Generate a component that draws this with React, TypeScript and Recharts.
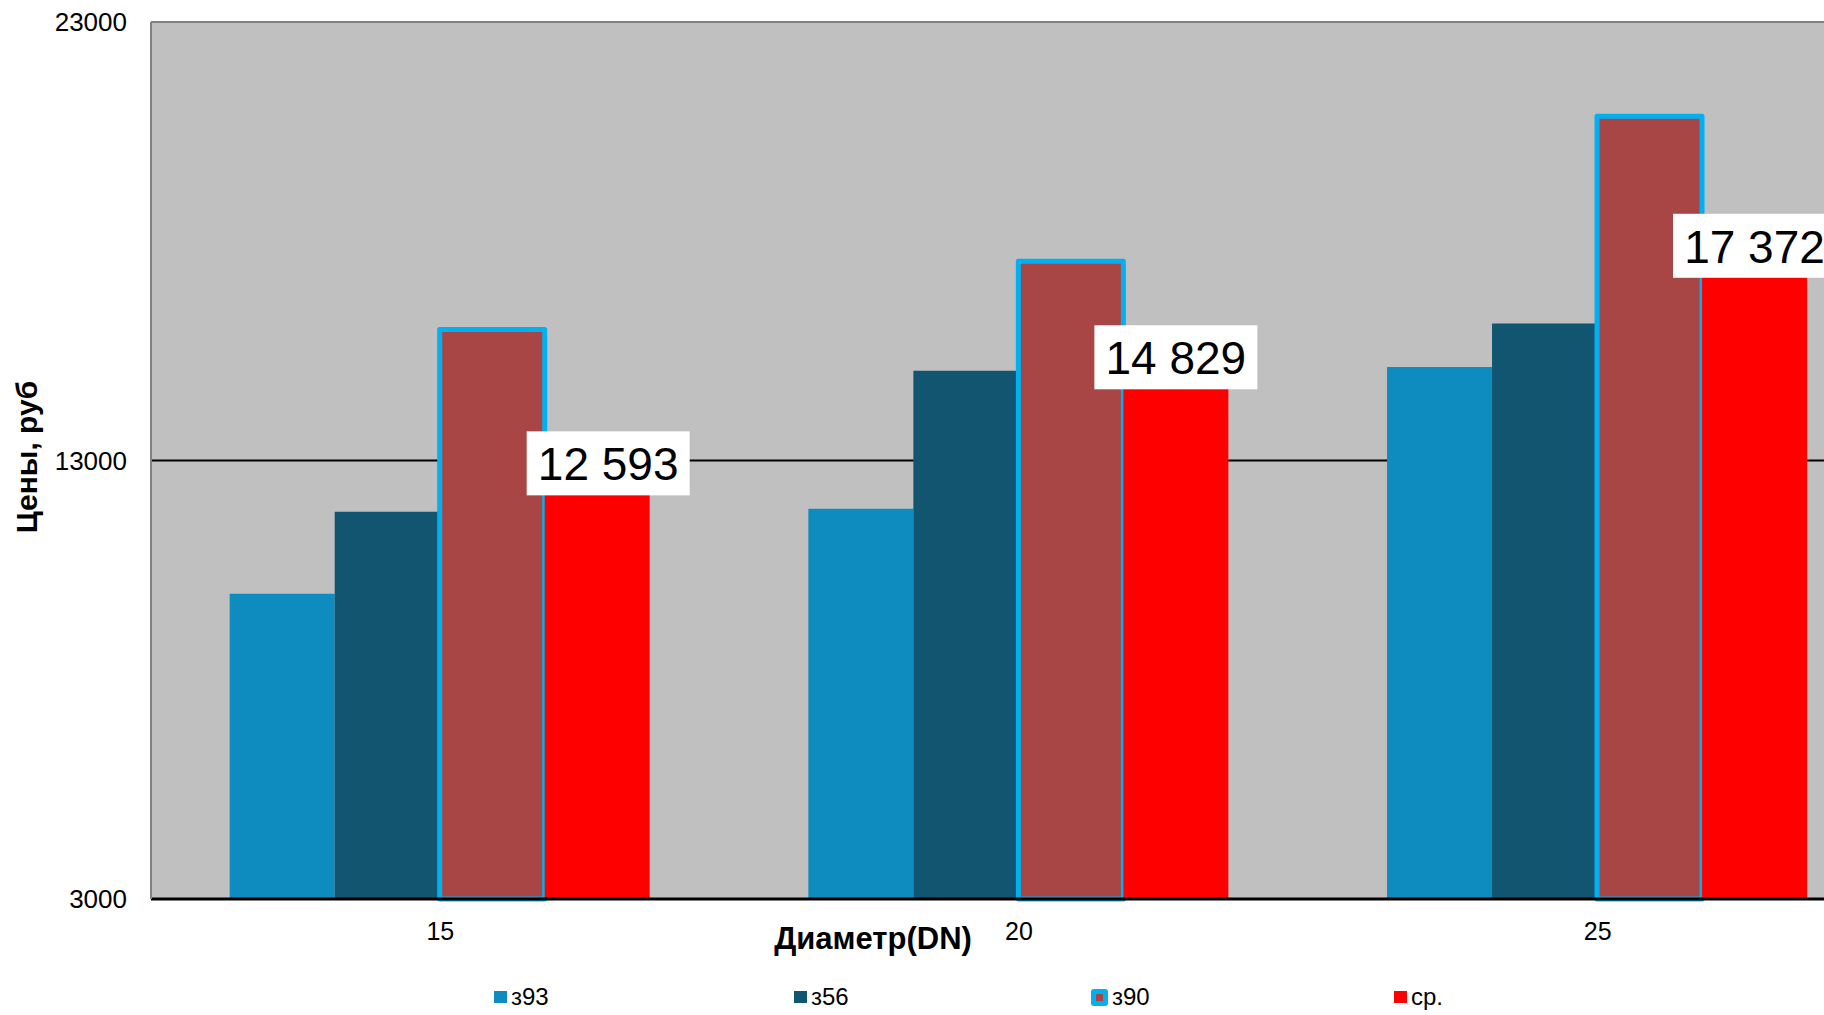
import { BarChart, Bar, XAxis, YAxis, CartesianGrid, ReferenceLine, LabelList } from "recharts";

const diameters = ["15", "20", "25"];
const z93 = [9960, 11898, 15130];
const z56 = [11830, 15047, 16126];
const z90 = [15990, 17545, 20853];
const avg = [12593, 14829, 17372];
const yTicks = [3000, 13000, 23000];

const SERIES = [
  { key: "z93", name: "з93", fill: "#0E8BBF" },
  { key: "z56", name: "з56", fill: "#125571" },
  { key: "z90", name: "з90", fill: "#A84646", stroke: "#00B0F0" },
  { key: "avg", name: "ср.", fill: "#FF0000" },
];

const data = diameters.map((d, i) => ({ dn: d, z93: z93[i], z56: z56[i], z90: z90[i], avg: avg[i] }));

const FONT = "'Liberation Sans', Arial, sans-serif";

const fmt = (v: number) => String(v).replace(/\B(?=(\d{3})+(?!\d))/g, " ");

// the first label was nudged by hand in the original
const LABEL_NUDGE = [
  { dx: 11, dy: 8 },
  { dx: 0, dy: 0 },
  { dx: 0, dy: 0 },
];

function AvgLabel(props: any) {
  const { x, y, width, value, index } = props;
  const n = LABEL_NUDGE[index] || { dx: 0, dy: 0 };
  const cx = x + width / 2 + n.dx;
  const ty = y + n.dy;
  return (
    <g>
      <rect x={cx - 81.5} y={ty - 55} width={163} height={64} fill="#fff" />
      <text x={cx} y={ty - 6} textAnchor="middle" fontSize={46} fontFamily={FONT} fill="#000">
        {fmt(value)}
      </text>
    </g>
  );
}

function LegendIcon({ s }: { s: (typeof SERIES)[number] }) {
  if (s.stroke) {
    return (
      <span
        style={{
          display: "inline-flex",
          alignItems: "center",
          justifyContent: "center",
          width: 17,
          height: 17,
          borderRadius: 3,
          background: s.stroke,
          marginLeft: -3,
        }}
      >
        <span style={{ width: 7, height: 7, background: s.fill }} />
      </span>
    );
  }
  return <span style={{ width: 13, height: 12, background: s.fill, display: "inline-block" }} />;
}

export default function App() {
  return (
    <div
      style={{
        position: "fixed",
        left: 0,
        top: 0,
        width: 1824,
        height: 1015,
        overflow: "hidden",
        background: "#fff",
        fontFamily: FONT,
      }}
    >
      <BarChart
        width={1900}
        height={1015}
        data={data}
        margin={{ top: 22, right: 13, bottom: 36, left: 0 }}
        barCategoryGap="13.6%"
        barGap={0}
      >
        <CartesianGrid vertical={false} stroke="#000" strokeWidth={2} fill="#C0C0C0" fillOpacity={1} />
        <XAxis
          dataKey="dn"
          height={80}
          tickSize={0}
          tickMargin={23}
          axisLine={{ stroke: "#000", strokeWidth: 3 }}
          tick={{ fill: "#000", fontSize: 25, fontFamily: FONT }}
          label={{
            content: () => (
              <text x={873} y={949} textAnchor="middle" fontSize={31} fontWeight="bold" fontFamily={FONT} fill="#000">
                Диаметр(DN)
              </text>
            ),
          }}
        />
        <YAxis
          width={151}
          domain={[3000, 23000]}
          ticks={yTicks}
          interval={0}
          tickSize={0}
          tickMargin={24}
          axisLine={{ stroke: "#808080", strokeWidth: 2 }}
          tick={{ fill: "#000", fontSize: 26, fontFamily: FONT }}
          label={{
            content: () => (
              <text
                x={0}
                y={0}
                transform="translate(36.5, 457) rotate(-90)"
                textAnchor="middle"
                fontSize={30}
                fontWeight="bold"
                fontFamily={FONT}
                fill="#000"
              >
                Цены, руб
              </text>
            ),
          }}
        />
        <ReferenceLine y={23000} stroke="#808080" strokeWidth={2} />
        {SERIES.map((s) => (
          <Bar
            key={s.key}
            dataKey={s.key}
            name={s.name}
            fill={s.fill}
            stroke={s.stroke || "none"}
            strokeWidth={s.stroke ? 5 : 0}
            strokeLinejoin="round"
            isAnimationActive={false}
          >
            {s.key === "avg" && <LabelList dataKey="avg" content={AvgLabel} />}
          </Bar>
        ))}
      </BarChart>
      <div
        style={{
          position: "absolute",
          left: 494,
          top: 985,
          display: "flex",
          fontSize: 24,
          lineHeight: "24px",
          color: "#000",
        }}
      >
        {SERIES.map((s) => (
          <div key={s.key} style={{ width: 300, display: "flex", alignItems: "center", gap: 4 }}>
            <LegendIcon s={s} />
            <span>{s.name}</span>
          </div>
        ))}
      </div>
    </div>
  );
}
